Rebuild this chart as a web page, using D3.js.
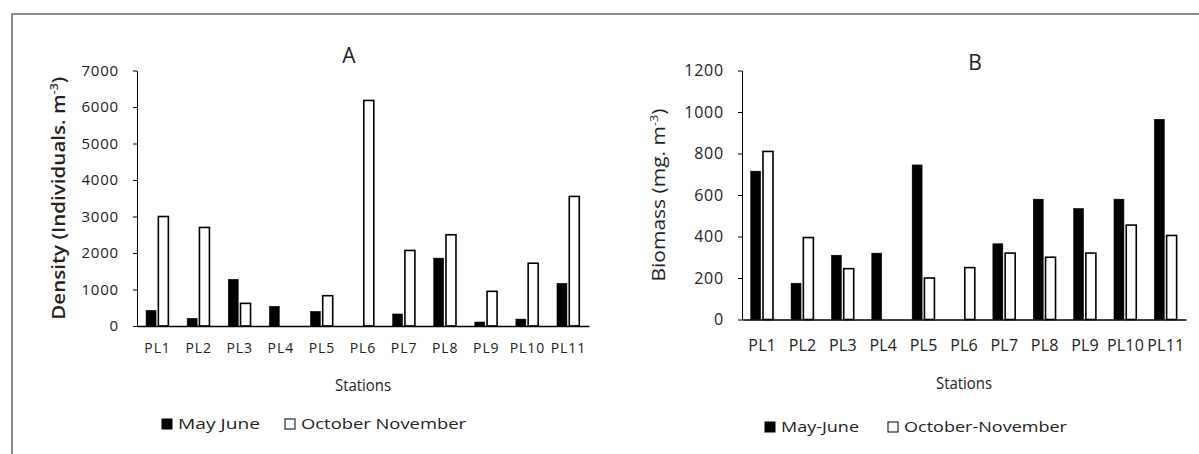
<!DOCTYPE html>
<html>
<head>
<meta charset="utf-8">
<script src="https://cdn.jsdelivr.net/npm/d3@7"></script>
<style>
  body { margin: 0; background: #fff; }
  svg text { font-family: "Open Sans", Lato, sans-serif; fill: #222; }
</style>
</head>
<body>
<div id="wrapper"></div>
<script>
const stations = ["PL1", "PL2", "PL3", "PL4", "PL5", "PL6", "PL7", "PL8", "PL9", "PL10", "PL11"];
const densityMayJune = [430, 210, 1280, 540, 400, 0, 330, 1860, 110, 190, 1170];
const densityOctNov = [3000, 2700, 620, 0, 830, 6180, 2070, 2500, 950, 1720, 3550];
const biomassMayJune = [715, 175, 310, 320, 745, 0, 365, 580, 535, 580, 965];
const biomassOctNov = [810, 395, 245, 0, 200, 250, 320, 300, 320, 455, 405];
const densityTicks = [0, 1000, 2000, 3000, 4000, 5000, 6000, 7000];
const biomassTicks = [0, 200, 400, 600, 800, 1000, 1200];

const width = 1199, height = 454;

const svg = d3.select("#wrapper")
    .append("svg")
    .attr("width", width)
    .attr("height", height);

// grey frame round the whole figure
svg.append("rect")
    .attr("x", 12).attr("y", 14)
    .attr("width", 1200).attr("height", 460)
    .attr("fill", "none")
    .attr("stroke", "#8a8a8a")
    .attr("stroke-width", 2);

function drawPanel(p) {
    const g = svg.append("g");

    const xScaler = d3.scaleBand()
        .domain(stations)
        .range([p.left, p.right]);

    const yScaler = d3.scaleLinear()
        .domain([0, d3.max(p.ticks)])
        .range([p.bottom, p.top]);

    const series = [
        {key: "may", values: p.may, fill: "#000"},
        {key: "oct", values: p.oct, fill: "#fff"}
    ];
    const barW = 10;
    const offset = {may: -11.5, oct: 0.8};

    series.forEach(s => {
        g.append("g").selectAll("rect")
            .data(stations.map((st, i) => ({station: st, value: s.values[i]})).filter(d => d.value > 0))
            .enter()
            .append("rect")
            .attr("x", d => xScaler(d.station) + xScaler.bandwidth() / 2 + offset[s.key])
            .attr("y", d => yScaler(d.value))
            .attr("width", barW)
            .attr("height", d => p.bottom - yScaler(d.value))
            .attr("fill", s.fill)
            .attr("stroke", "#000")
            .attr("stroke-width", s.key == "oct" ? 1.6 : 0.5);
    });

    const yAxisGen = d3.axisLeft(yScaler)
        .tickValues(p.ticks)
        .tickFormat(d3.format("d"))
        .tickSize(4)
        .tickSizeOuter(0)
        .tickPadding(14);
    const yAxis = g.append("g")
        .attr("transform", `translate(${p.left},0)`)
        .call(yAxisGen);
    yAxis.selectAll("text")
        .attr("font-size", p.tickFont)
        .attr("letter-spacing", 0.8)
        .style("font-family", "'Open Sans', sans-serif")
        .attr("fill", "#333");
    yAxis.selectAll("line, path").attr("stroke", "#000");

    const xAxisGen = d3.axisBottom(xScaler)
        .tickSize(0)
        .tickSizeOuter(0)
        .tickPadding(p.xPad);
    const xAxis = g.append("g")
        .attr("transform", `translate(0,${p.bottom})`)
        .call(xAxisGen);
    xAxis.selectAll("text")
        .attr("font-size", p.xFont)
        .attr("letter-spacing", p.xSpacing)
        .style("font-family", "'Open Sans', sans-serif")
        .attr("fill", "#333");
    xAxis.select("path").attr("stroke", "#000").attr("stroke-width", 1.5);

    g.append("text")
        .attr("x", p.titleX)
        .attr("y", p.titleY)
        .attr("text-anchor", "middle")
        .attr("font-size", 21)
        .text(p.title);

    const yLabel = g.append("text")
        .attr("transform", `translate(${p.yLabelX},${(p.top + p.bottom) / 2}) rotate(-90)`)
        .attr("text-anchor", "middle")
        .attr("font-size", p.yLabelFont)
        .attr("font-weight", p.yLabelWeight)
        .attr("textLength", p.yLabelLength)
        .attr("lengthAdjust", "spacingAndGlyphs");
    yLabel.append("tspan").text(p.yLabel);
    yLabel.append("tspan").attr("dy", -7).attr("font-size", p.yLabelFont * 0.6).text("-3");
    yLabel.append("tspan").attr("dy", 7).text(")");

    g.append("text")
        .attr("x", (p.left + p.right) / 2)
        .attr("y", p.stationsY)
        .attr("text-anchor", "middle")
        .attr("font-size", p.stationsFont)
        .attr("textLength", p.stationsLength)
        .attr("lengthAdjust", "spacingAndGlyphs")
        .text("Stations");

    const legend = g.append("g");
    p.legend.forEach((l, i) => {
        legend.append("rect")
            .attr("x", l.x).attr("y", p.legendY - 5)
            .attr("width", 10).attr("height", 10)
            .attr("fill", i == 0 ? "#000" : "#fff")
            .attr("stroke", "#000")
            .attr("stroke-width", 1);
        legend.append("text")
            .attr("x", l.x + 16)
            .attr("y", p.legendY)
            .attr("dy", "0.35em")
            .attr("font-size", p.legendFont)
            .attr("textLength", l.len)
            .attr("lengthAdjust", "spacingAndGlyphs")
            .attr("fill", "#333")
            .text(l.text);
    });
}

drawPanel({
    left: 137, right: 589, top: 70.5, bottom: 326,
    may: densityMayJune, oct: densityOctNov, ticks: densityTicks,
    tickFont: 15, xFont: 14, xSpacing: 0.9, xPad: 17,
    title: "A", titleX: 349, titleY: 63,
    yLabel: "Density (Individuals. m", yLabelX: 65, yLabelFont: 18, yLabelWeight: 600, yLabelLength: 243,
    stationsY: 391, stationsFont: 16, stationsLength: 56,
    legendY: 424, legendFont: 14,
    legend: [{x: 162, text: "May June", len: 82}, {x: 285, text: "October November", len: 165}]
});

drawPanel({
    left: 742, right: 1186, top: 70.5, bottom: 319.5,
    may: biomassMayJune, oct: biomassOctNov, ticks: biomassTicks,
    tickFont: 16, xFont: 16, xSpacing: 0.2, xPad: 20,
    title: "B", titleX: 975, titleY: 70,
    yLabel: "Biomass (mg. m", yLabelX: 665, yLabelFont: 18, yLabelWeight: 400, yLabelLength: 173,
    stationsY: 389, stationsFont: 16, stationsLength: 56,
    legendY: 427, legendFont: 15,
    legend: [{x: 765, text: "May-June", len: 78}, {x: 888, text: "October-November", len: 163}]
});
</script>
</body>
</html>
